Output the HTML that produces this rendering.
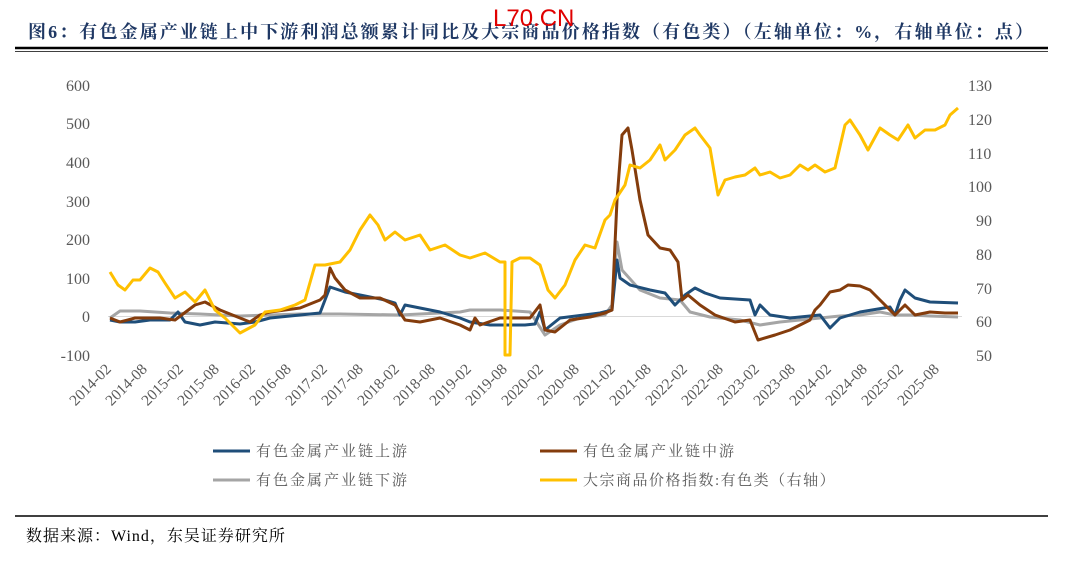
<!DOCTYPE html>
<html><head><meta charset="utf-8"><style>
body{margin:0;background:#fff;width:1080px;height:567px;overflow:hidden;font-family:"Liberation Serif","Noto Serif CJK SC",serif;}
</style></head><body>
<svg width="1080" height="567" xmlns="http://www.w3.org/2000/svg" style="position:absolute;left:0;top:0">
<text x="28" y="38" font-size="18" font-weight="bold" fill="#1f3864" letter-spacing="2.1" font-family="Liberation Serif, Noto Serif CJK SC, serif">图6：有色金属产业链上中下游利润总额累计同比及大宗商品价格指数（有色类）（左轴单位：%，右轴单位：点）</text>
<text x="493" y="26" font-size="24" fill="#e00000" font-family="Liberation Sans, sans-serif">L70.CN</text>
<line x1="15" y1="48" x2="1048" y2="48" stroke="#000" stroke-width="2.5"/>
<line x1="15" y1="51.5" x2="1048" y2="51.5" stroke="#000" stroke-width="0.8"/>
<g font-size="16" fill="#595959" text-anchor="end">
<text x="90" y="91">600</text><text x="90" y="129">500</text><text x="90" y="168">400</text><text x="90" y="207">300</text><text x="90" y="245">200</text><text x="90" y="284">100</text><text x="90" y="322">0</text><text x="90" y="361">-100</text>
</g>
<g font-size="16" fill="#595959">
<text x="968" y="91">130</text><text x="968" y="125">120</text><text x="968" y="159">110</text><text x="968" y="192">100</text><text x="976" y="226">90</text><text x="976" y="260">80</text><text x="976" y="294">70</text><text x="976" y="327">60</text><text x="976" y="361">50</text>
</g>
<line x1="108" y1="316.5" x2="962" y2="316.5" stroke="#d9d9d9" stroke-width="1"/>
<g font-size="15.5" fill="#595959" text-anchor="end">
<text transform="translate(112,370) rotate(-45)">2014-02</text>
<text transform="translate(148,370) rotate(-45)">2014-08</text>
<text transform="translate(184,370) rotate(-45)">2015-02</text>
<text transform="translate(220,370) rotate(-45)">2015-08</text>
<text transform="translate(256,370) rotate(-45)">2016-02</text>
<text transform="translate(292,370) rotate(-45)">2016-08</text>
<text transform="translate(328,370) rotate(-45)">2017-02</text>
<text transform="translate(364,370) rotate(-45)">2017-08</text>
<text transform="translate(400,370) rotate(-45)">2018-02</text>
<text transform="translate(436,370) rotate(-45)">2018-08</text>
<text transform="translate(472,370) rotate(-45)">2019-02</text>
<text transform="translate(508,370) rotate(-45)">2019-08</text>
<text transform="translate(544,370) rotate(-45)">2020-02</text>
<text transform="translate(580,370) rotate(-45)">2020-08</text>
<text transform="translate(616,370) rotate(-45)">2021-02</text>
<text transform="translate(652,370) rotate(-45)">2021-08</text>
<text transform="translate(688,370) rotate(-45)">2022-02</text>
<text transform="translate(724,370) rotate(-45)">2022-08</text>
<text transform="translate(760,370) rotate(-45)">2023-02</text>
<text transform="translate(796,370) rotate(-45)">2023-08</text>
<text transform="translate(832,370) rotate(-45)">2024-02</text>
<text transform="translate(868,370) rotate(-45)">2024-08</text>
<text transform="translate(904,370) rotate(-45)">2025-02</text>
<text transform="translate(940,370) rotate(-45)">2025-08</text>
</g>
<g fill="none" stroke-width="3" stroke-linejoin="round">
<polyline stroke="#a5a5a5" points="110,318 120,311 140,311 170,313 200,314 240,316 300,314 340,314 400,315 440,313 460,312 470,310 480,310 500,310 530,312 545,335 560,325 580,318 605,315 612,305 617,242 622,270 640,290 660,298 680,300 690,312 710,317 740,320 760,325 780,322 820,318 840,316 860,315 880,312 895,315 910,315 930,316 958,317"/>
<polyline stroke="#1f4e79" points="110,320 120,322 135,322 150,320 170,320 178,312 185,322 200,325 215,322 240,324 255,322 270,318 300,315 320,313 330,287 345,292 360,295 385,300 395,303 400,315 405,305 420,308 440,312 460,318 470,322 490,325 525,325 535,324 540,312 545,330 560,318 600,313 612,310 617,260 620,278 630,285 650,290 665,293 675,305 685,295 695,288 705,293 720,298 750,300 755,315 760,305 770,315 790,318 820,315 830,328 840,318 860,312 890,307 895,315 900,300 905,290 915,298 930,302 958,303"/>
<polyline stroke="#843c0c" points="110,318 120,322 135,318 160,318 175,320 195,305 205,302 220,310 240,318 250,322 260,315 270,312 300,308 320,300 325,295 330,268 335,278 345,290 360,298 380,298 395,305 405,320 420,322 440,318 460,325 470,330 475,318 480,325 500,318 530,318 540,305 545,330 555,332 570,320 590,317 605,313 612,310 617,200 622,135 628,128 632,150 640,200 648,235 660,248 670,250 678,262 682,300 688,295 700,305 715,315 735,322 750,320 758,340 775,335 790,330 810,320 815,310 820,305 830,292 840,290 848,285 860,286 870,290 880,300 895,315 905,305 915,315 930,312 945,313 958,313"/>
<polyline stroke="#ffc000" points="110,272 118,285 125,290 133,280 140,280 150,268 158,272 165,283 175,298 185,292 195,302 205,290 215,310 225,318 240,333 255,325 265,312 280,310 295,305 305,300 315,265 325,265 340,262 350,250 360,230 370,215 378,225 385,240 395,232 405,240 420,235 430,250 445,245 460,255 470,258 485,253 500,262 505,262 505,355 510,355 512,262 520,258 530,258 540,265 548,290 555,298 565,285 575,260 585,245 595,248 605,220 610,215 615,200 625,185 630,165 640,168 650,160 660,145 665,160 675,150 685,135 695,128 700,135 710,148 718,195 725,180 735,177 745,175 755,168 760,175 770,172 780,178 790,175 800,165 808,170 815,165 825,172 835,168 845,125 850,120 860,135 868,150 880,128 890,135 898,140 908,125 915,138 925,130 935,130 945,125 950,115 958,108"/>
</g>
<g font-size="15" fill="#595959">
<line x1="213" y1="451" x2="250" y2="451" stroke="#1f4e79" stroke-width="3"/><text x="256" y="456" letter-spacing="2">有色金属产业链上游</text>
<line x1="540" y1="451" x2="577" y2="451" stroke="#843c0c" stroke-width="3"/><text x="583" y="456" letter-spacing="2">有色金属产业链中游</text>
<line x1="213" y1="480" x2="250" y2="480" stroke="#a5a5a5" stroke-width="3"/><text x="256" y="485" letter-spacing="2">有色金属产业链下游</text>
<line x1="540" y1="480" x2="577" y2="480" stroke="#ffc000" stroke-width="3"/><text x="583" y="485" letter-spacing="1.5">大宗商品价格指数:有色类（右轴）</text>
</g>
<line x1="15" y1="516" x2="1048" y2="516" stroke="#000" stroke-width="1.5"/>
<text x="26" y="541" font-size="16" fill="#000" letter-spacing="1">数据来源：Wind，东吴证券研究所</text>
</svg>
</body></html>
